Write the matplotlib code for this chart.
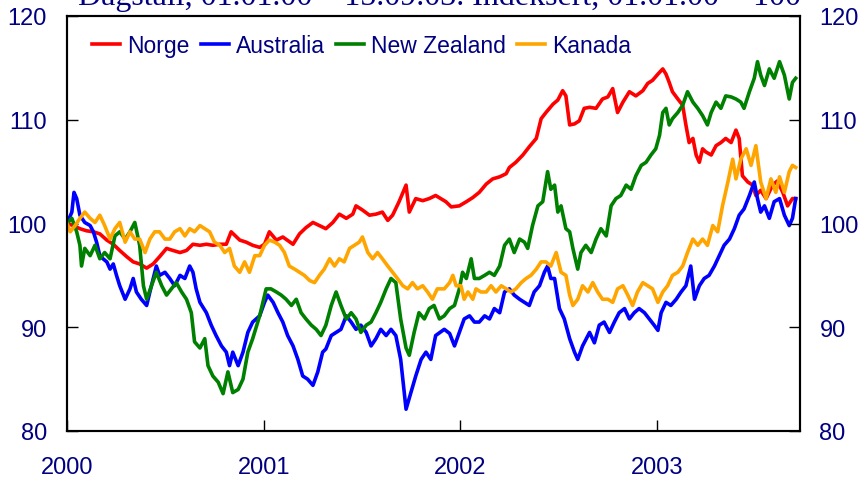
import matplotlib
matplotlib.use("Agg")
import matplotlib.pyplot as plt
import pandas as pd

plt.rcParams['font.family'] = ['Liberation Sans', 'DejaVu Sans']

start = pd.Timestamp('2000-01-01')
title = "Dagstall, 01.01.00 \u2013 15.09.03. Indeksert, 01.01.00 = 100"
year_labels = ['2000', '2001', '2002', '2003']
y_ticks = [80, 90, 100, 110, 120]

# Days since 2000-01-01 and index values
norge_days = [0, 12, 24, 36, 49, 61, 74, 86, 98, 111, 123, 135, 148, 160, 172, 185, 197, 210, 222, 234,
              247, 259, 271, 284, 296, 305, 321, 333, 345, 358, 367, 376, 389, 401, 420, 432, 444, 457,
              469, 481, 494, 506, 519, 531, 537, 549, 562, 574, 586, 596, 605, 617, 630, 636, 648, 661,
              673, 685, 704, 714, 729, 742, 754, 766, 779, 791, 804, 816, 822, 834, 847, 859, 872, 881,
              890, 903, 912, 921, 927, 934, 943, 952, 961, 971, 983, 995, 1005, 1014, 1023, 1033, 1045,
              1057, 1070, 1079, 1088, 1098, 1107, 1113, 1119, 1125, 1135, 1144, 1150, 1156, 1163, 1169,
              1175, 1181, 1187, 1197, 1206, 1215, 1224, 1234, 1243, 1249, 1255, 1265, 1274, 1280, 1289,
              1299, 1311, 1320, 1330, 1339, 1348, 1354]
norge = [100.0, 99.8, 99.5, 99.3, 99.2, 99.0, 98.4, 98.0, 97.4, 96.8, 96.3, 96.1, 95.7, 96.1, 96.8, 97.6,
         97.4, 97.2, 97.4, 98.0, 97.9, 98.0, 97.9, 98.0, 98.0, 99.2, 98.4, 98.2, 97.9, 97.7, 98.0, 99.2,
         98.4, 98.7, 98.0, 99.0, 99.6, 100.1, 99.8, 99.5, 100.1, 100.9, 100.5, 100.9, 101.7, 101.3, 100.8,
         100.9, 101.1, 100.3, 100.8, 102.1, 103.7, 101.1, 102.4, 102.2, 102.4, 102.7, 102.1, 101.6, 101.7,
         102.1, 102.5, 103.0, 103.8, 104.3, 104.5, 104.8, 105.4, 105.9, 106.6, 107.4, 108.2, 110.1, 110.7,
         111.5, 111.9, 112.8, 112.3, 109.5, 109.6, 109.9, 111.1, 111.2, 111.1, 112.0, 112.2, 113.0, 110.7,
         111.7, 112.7, 112.3, 112.8, 113.5, 113.8, 114.4, 114.9, 114.4, 113.6, 112.7, 112.0, 111.4, 109.5,
         107.8, 108.2, 106.6, 105.9, 107.2, 106.9, 106.6, 107.5, 107.8, 108.2, 107.8, 109.0, 108.2, 104.6,
         104.0, 103.7, 102.7, 103.2, 102.4, 103.7, 104.1, 103.0, 101.7, 102.4, 102.4]

australia_days = [0, 9, 13, 18, 24, 33, 43, 49, 55, 61, 67, 74, 80, 86, 92, 98, 108, 117, 123, 129, 138,
                  148, 154, 166, 172, 182, 191, 200, 210, 219, 228, 234, 240, 247, 259, 268, 277, 287, 296,
                  302, 308, 318, 327, 336, 345, 358, 367, 373, 383, 392, 401, 410, 420, 429, 438, 447, 457,
                  466, 475, 481, 491, 500, 509, 519, 528, 537, 546, 556, 565, 574, 583, 593, 602, 611, 620,
                  630, 639, 648, 658, 667, 676, 685, 701, 711, 720, 729, 738, 748, 757, 766, 776, 785, 794,
                  804, 813, 822, 831, 841, 850, 859, 868, 878, 887, 893, 899, 906, 915, 924, 934, 943, 949,
                  958, 971, 980, 989, 998, 1008, 1017, 1026, 1036, 1045, 1054, 1063, 1073, 1082, 1091, 1098,
                  1104, 1113, 1122, 1132, 1141, 1150, 1159, 1166, 1175, 1184, 1193, 1203, 1212, 1221, 1231,
                  1240, 1249, 1258, 1268, 1277, 1283, 1289, 1296, 1305, 1314, 1324, 1333, 1342, 1348, 1354]
australia = [100.0, 101.1, 103.0, 102.4, 100.8, 100.1, 99.8, 99.2, 98.2, 96.9, 96.6, 96.3, 95.6, 96.1,
             95.0, 94.0, 92.7, 93.7, 94.7, 93.4, 92.7, 92.1, 93.4, 95.9, 95.0, 95.3, 94.7, 94.0, 95.0, 94.7,
             95.9, 95.3, 93.7, 92.4, 91.4, 90.2, 89.2, 88.2, 87.6, 86.3, 87.6, 86.3, 87.6, 89.5, 90.5, 91.1,
             92.4, 93.1, 92.4, 91.4, 90.5, 89.2, 88.2, 86.9, 85.3, 85.0, 84.4, 85.7, 87.6, 87.9, 89.2, 89.5,
             89.8, 91.1, 90.5, 89.8, 90.2, 89.5, 88.2, 88.9, 89.8, 89.2, 89.8, 89.2, 86.9, 82.1, 83.7, 85.3,
             86.9, 87.6, 86.9, 89.2, 89.8, 89.4, 88.2, 89.5, 90.8, 91.1, 90.5, 90.5, 91.1, 90.8, 91.8, 91.4,
             93.4, 93.7, 93.1, 92.7, 92.4, 92.1, 93.4, 94.0, 95.3, 95.9, 94.7, 94.7, 91.8, 90.8, 88.9, 87.6,
             86.9, 88.2, 89.5, 88.5, 90.2, 90.5, 89.5, 90.5, 91.4, 91.8, 90.8, 91.4, 91.8, 91.4, 90.8, 90.2,
             89.7, 91.4, 92.4, 92.1, 92.7, 93.4, 94.0, 95.9, 92.7, 94.0, 94.7, 95.0, 95.9, 96.9, 97.9, 98.5,
             99.5, 100.8, 101.4, 102.7, 104.0, 102.4, 101.1, 101.7, 100.5, 102.1, 102.4, 100.8, 99.8, 100.5,
             102.4]

nz_days = [0, 9, 18, 24, 27, 33, 43, 52, 61, 70, 80, 89, 98, 108, 117, 126, 135, 142, 148, 157, 166, 176,
           185, 194, 203, 213, 222, 231, 237, 247, 256, 262, 271, 281, 290, 299, 308, 318, 327, 336, 345,
           358, 370, 379, 389, 398, 407, 417, 426, 435, 444, 454, 463, 472, 481, 491, 500, 509, 519, 528,
           537, 546, 556, 565, 574, 583, 593, 602, 611, 620, 630, 636, 645, 654, 664, 673, 682, 692, 701,
           711, 720, 729, 735, 742, 751, 757, 766, 776, 785, 794, 804, 813, 822, 831, 841, 850, 856, 865,
           875, 884, 890, 893, 899, 906, 912, 918, 927, 934, 940, 949, 955, 964, 974, 983, 992, 1002, 1011,
           1020, 1029, 1039, 1048, 1057, 1067, 1076, 1085, 1094, 1101, 1107, 1113, 1119, 1125, 1135, 1144,
           1153, 1163, 1172, 1181, 1190, 1197, 1206, 1215, 1224, 1234, 1243, 1252, 1258, 1268, 1277, 1283,
           1289, 1296, 1305, 1314, 1324, 1333, 1342, 1348, 1354]
new_zealand = [100.0, 100.5, 99.2, 97.9, 95.9, 97.6, 96.9, 97.9, 96.6, 97.2, 96.6, 98.8, 99.2, 98.5, 99.2,
               100.1, 97.9, 94.0, 92.7, 94.0, 95.3, 94.0, 93.1, 93.7, 94.3, 93.4, 92.7, 91.4, 88.6, 88.0,
               88.9, 86.3, 85.3, 84.7, 83.6, 85.7, 83.7, 84.0, 85.0, 87.6, 88.9, 91.1, 93.7, 93.7, 93.4,
               93.1, 92.7, 92.1, 92.7, 91.4, 90.8, 90.2, 89.8, 89.2, 90.2, 92.1, 93.4, 92.1, 90.8, 91.4,
               90.8, 89.5, 90.2, 90.5, 91.4, 92.4, 93.7, 94.7, 94.3, 90.8, 88.0, 87.3, 89.5, 91.4, 90.8,
               91.8, 92.1, 90.8, 91.1, 91.8, 92.1, 93.7, 95.3, 94.7, 96.6, 94.7, 94.7, 95.0, 95.3, 95.0,
               95.9, 97.9, 98.5, 97.2, 98.5, 98.2, 97.6, 99.8, 101.7, 102.1, 104.0, 105.0, 103.3, 103.7,
               101.1, 101.7, 99.5, 99.2, 97.6, 95.6, 97.2, 97.9, 97.2, 98.5, 99.5, 98.8, 101.7, 102.4,
               102.7, 103.7, 103.3, 104.6, 105.6, 105.9, 106.6, 107.2, 108.5, 110.7, 111.1, 109.5, 110.1,
               110.7, 111.4, 112.7, 111.7, 111.1, 110.4, 109.5, 110.7, 111.7, 111.1, 112.3, 112.2, 112.0,
               111.7, 111.1, 112.7, 114.0, 115.6, 114.3, 113.3, 114.9, 114.0, 115.6, 114.3, 112.0, 113.6,
               114.0]

kanada_days = [0, 6, 15, 24, 33, 43, 52, 61, 70, 80, 89, 98, 108, 117, 126, 135, 145, 154, 163, 172, 182,
               191, 200, 210, 219, 228, 237, 247, 256, 265, 274, 284, 293, 302, 311, 321, 330, 339, 349,
               358, 367, 376, 386, 395, 404, 413, 423, 432, 441, 451, 460, 469, 478, 488, 497, 506, 515,
               525, 534, 543, 549, 559, 568, 577, 586, 596, 605, 614, 624, 633, 642, 651, 661, 670, 679,
               688, 701, 711, 717, 723, 732, 738, 745, 754, 760, 769, 779, 788, 797, 807, 816, 825, 834,
               844, 853, 862, 872, 881, 890, 899, 909, 918, 927, 934, 940, 949, 958, 968, 977, 986, 995,
               1005, 1014, 1023, 1033, 1042, 1051, 1060, 1070, 1079, 1088, 1098, 1107, 1116, 1125, 1135,
               1144, 1153, 1163, 1172, 1181, 1190, 1200, 1209, 1218, 1228, 1237, 1243, 1252, 1262, 1271,
               1280, 1289, 1299, 1308, 1317, 1324, 1333, 1342, 1348, 1354]
kanada = [100.0, 99.2, 99.8, 100.5, 101.1, 100.5, 100.1, 100.8, 99.8, 98.5, 99.5, 100.1, 98.2, 99.2, 98.5,
          98.5, 97.2, 98.5, 99.2, 99.2, 98.5, 98.5, 99.2, 99.5, 98.8, 99.5, 99.2, 99.8, 99.5, 99.2, 98.2,
          97.9, 97.2, 97.6, 95.9, 95.3, 96.3, 95.3, 96.9, 96.9, 97.9, 98.4, 98.2, 97.9, 97.2, 95.9, 95.6,
          95.3, 95.0, 94.5, 94.3, 95.0, 95.6, 96.6, 95.9, 96.6, 96.3, 97.6, 97.9, 98.2, 98.7, 97.2, 96.6,
          97.2, 96.6, 95.9, 95.3, 94.7, 94.0, 93.7, 94.3, 93.7, 94.0, 93.4, 92.7, 93.7, 93.7, 94.3, 95.0,
          94.0, 94.0, 92.7, 93.4, 92.7, 93.7, 93.4, 93.4, 94.0, 93.4, 94.0, 93.7, 93.4, 93.7, 94.3, 94.7,
          95.0, 95.6, 96.3, 96.3, 95.9, 97.2, 95.3, 95.0, 93.1, 92.1, 92.7, 94.0, 93.4, 94.3, 93.4, 92.7,
          92.7, 92.4, 93.7, 94.0, 93.1, 92.1, 93.4, 94.3, 94.0, 93.7, 92.4, 93.4, 94.0, 95.0, 95.3, 95.9,
          97.2, 98.5, 97.9, 98.5, 97.9, 99.8, 99.2, 101.7, 104.0, 106.2, 104.3, 106.2, 107.2, 105.6, 107.5,
          104.0, 102.4, 104.3, 103.0, 104.5, 103.0, 105.0, 105.6, 105.4]

series = [
    ("Norge", norge_days, norge, "#ff0000"),
    ("Australia", australia_days, australia, "#0000ff"),
    ("New Zealand", nz_days, new_zealand, "#008000"),
    ("Kanada", kanada_days, kanada, "#ffa500"),
]

navy = "#000080"
fig = plt.figure(figsize=(8.64, 4.81), dpi=100)
W, H = 864, 481
ax = fig.add_axes([67 / W, 1 - 432 / H, (800 - 67) / W, (432 - 17) / H])

for label, days, vals, color in series:
    dates = start + pd.to_timedelta(days, unit="D")
    ax.plot(dates, vals, color=color, lw=2.6, label=label, solid_joinstyle="round")

ax.set_ylim(80, 120)
ax.set_xlim(start, start + pd.Timedelta(days=1362))
ax.set_yticks(y_ticks)
year_ticks = [pd.Timestamp(f"{y}-01-01") for y in year_labels]
ax.set_xticks(year_ticks)
ax.set_xticklabels(year_labels)

for s in ax.spines.values():
    s.set_linewidth(1.5)
    s.set_color("black")

ax.tick_params(axis="x", direction="in", length=8, width=1, pad=18, labelsize=17, labelcolor=navy)
ax.tick_params(axis="y", direction="in", length=8, width=1, pad=14.5, labelsize=17, labelcolor=navy,
               right=False)

ax2 = ax.twinx()
ax2.set_ylim(80, 120)
ax2.set_yticks(y_ticks)
ax2.tick_params(axis="y", direction="in", length=8, width=1, pad=14, labelsize=17, labelcolor=navy)
for s in ax2.spines.values():
    s.set_linewidth(1.5)

leg = ax.legend(loc="upper left", bbox_to_anchor=(0.022, 0.978), ncol=4, frameon=False,
                handlelength=1.22, handletextpad=0.3, columnspacing=0.5, borderaxespad=0,
                fontsize=16.5)
for t in leg.get_texts():
    t.set_color(navy)
for l in leg.get_lines():
    l.set_linewidth(2.6)

fig.text(78 / W, 1 - 5 / H, title, family=["Liberation Serif", "DejaVu Serif"], fontsize=23,
         color=navy, ha="left", va="baseline")

fig.savefig("out.png", dpi=100)
